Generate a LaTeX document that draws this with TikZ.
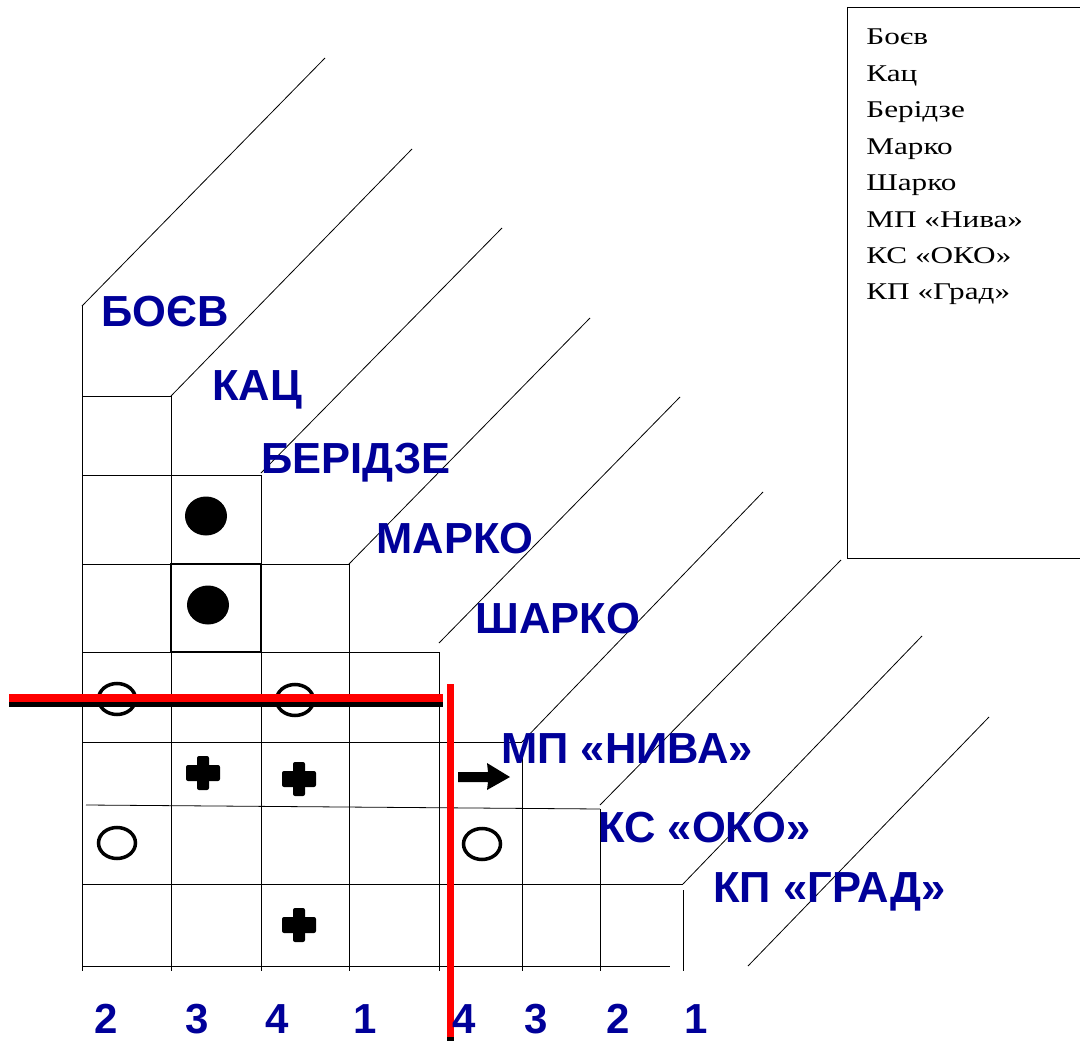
\documentclass[tikz,border=0pt]{standalone}
\usepackage{fontspec}
\setmainfont{Liberation Serif}
\newfontfamily\labelfont{Liberation Sans}
\newfontfamily\legendfont[FakeStretch=1.3]{Liberation Serif}
\usepackage{tikz}
\definecolor{darkblue}{RGB}{0,0,153}

\begin{document}
\begin{tikzpicture}[x=1pt, y=-1pt, line width=0.8pt,
    firm/.style={font=\labelfont\bfseries\fontsize{43.5}{43.5}\selectfont, text=darkblue, anchor=base west, inner sep=0pt},
    num/.style={font=\labelfont\bfseries\fontsize{42}{42}\selectfont, text=darkblue, anchor=base, inner sep=0pt},
    hole/.style={line width=3.5pt},
    redline/.style={red, line width=8pt}]
\useasboundingbox (0,0) rectangle (1080,1041);

\draw (82,306) -- (82,971);
\draw (171,396) -- (171,971);
\draw (261,475) -- (261,971);
\draw (349,564) -- (349,971);
\draw (439,652) -- (439,971);
\draw (522,757) -- (522,971);
\draw (600,809) -- (600,971);
\draw (683,890) -- (683,971);

\draw (82,396) -- (171,396);
\draw (82,475) -- (261,475);
\draw (82,564) -- (349,564);
\draw (82,652) -- (439,652);
\draw (82,742) -- (522,742);
\draw (86,805) -- (600,809);
\draw (82,884) -- (683,884);
\draw (82,966) -- (670,966);

\draw (82,306) -- (325,58);
\draw (171,396) -- (412,149);
\draw (261,473) -- (502,228);
\draw (349,564) -- (590,318);
\draw (439,643) -- (680,397);
\draw (522,742) -- (763,492);
\draw (600,805) -- (841,560);
\draw (683,884) -- (922,636);
\draw (748,966) -- (989,717);

\draw[line width=2pt] (171,564) rectangle (261,652);

\fill (206,516) ellipse [x radius=21pt, y radius=19.5pt];
\fill (208,605) ellipse [x radius=21pt, y radius=19.5pt];
\draw[hole] (117,699) ellipse [x radius=18.5pt, y radius=15.5pt];
\draw[hole] (295,700) ellipse [x radius=18.5pt, y radius=15.5pt];
\draw[hole] (117,843) ellipse [x radius=18.5pt, y radius=15.5pt];
\draw[hole] (482,844) ellipse [x radius=18.5pt, y radius=15.5pt];

\foreach \p in {(203,773),(299,779),(299,925)} {
    \fill[rounded corners=2pt] \p +(-17,-8) rectangle +(17,8);
    \fill[rounded corners=2pt] \p +(-6,-17) rectangle +(6,17);
}
\fill (458,772) -- (488,772) -- (487,763) -- (510,777) -- (487,790) -- (488,782) -- (458,782) -- cycle;

\draw[line width=5pt] (9,704.5) -- (443,704.5);
\draw[redline] (9,698) -- (443,698);
\draw[line width=7.5pt] (450.5,700) -- (450.5,1045);
\draw[redline, line width=7.5pt] (450.5,684) -- (450.5,1037);

\node[firm] (boiev) at (101,326) {БОЄВ};
\node[firm] (kats) at (212,400) {КАЦ};
\node[firm] (beridze) at (261,473) {БЕРІДЗЕ};
\node[firm] (marko) at (376,553) {МАРКО};
\node[firm] (sharko) at (475,633) {ШАРКО};
\node[firm] (niva) at (501,763) {МП «НИВА»};
\node[firm] (oko) at (598,842) {КС «ОКО»};
\node[firm] (grad) at (713,902) {КП «ГРАД»};

\node[num] (n1) at (106,1033) {2};
\node[num] (n2) at (197,1033) {3};
\node[num] (n3) at (277,1033) {4};
\node[num] (n4) at (365,1033) {1};
\node[num] (n5) at (464,1033) {4};
\node[num] (n6) at (536,1033) {3};
\node[num] (n7) at (618,1033) {2};
\node[num] (n8) at (696,1033) {1};

\draw (847,7) -- (1085,7) (847,7) -- (847,558) -- (1085,558);
\foreach \name [count=\i] in {Боєв, Кац, Берідзе, Марко, Шарко, МП «Нива», КС «ОКО», КП «Град»}
    \node[anchor=base west, inner sep=0pt, font=\legendfont\fontsize{24}{24}\selectfont] (leg\i) at (866,{45+36.4*(\i-1)}) {\name};
\end{tikzpicture}
\end{document}
